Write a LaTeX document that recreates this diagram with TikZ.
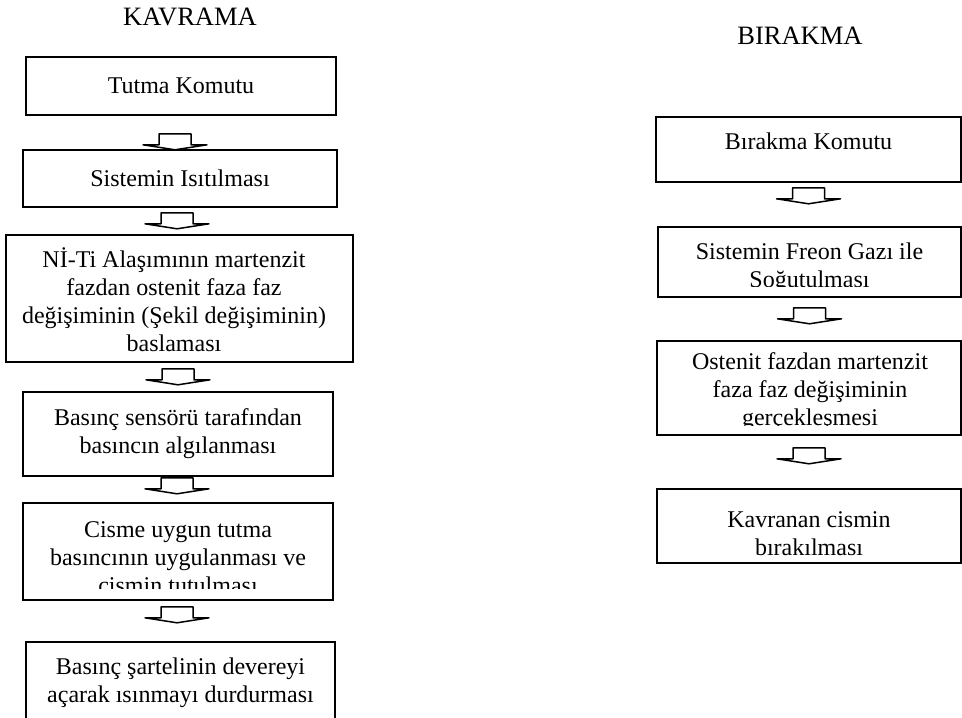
\documentclass[tikz,border=0pt]{standalone}
\usepackage{fontspec}
\setmainfont{Liberation Serif}
\usetikzlibrary{positioning}

\begin{document}
\begin{tikzpicture}[
  x=1pt,
  y=-1pt,
  box/.style={draw, line width=1.6pt, align=center, inner sep=0pt, font=\fontsize{24}{28}\selectfont},
  txt/.style={align=center, inner sep=0pt, font=\fontsize{24}{28}\selectfont},
  title/.style={inner sep=0pt, font=\fontsize{26.5}{30}\selectfont},
  blockarr/.style={line width=1.5pt, line join=round, to path={
    ([yshift=-#1]\tikztostart) +(-16pt,0pt) -- +(16pt,0pt) -- +(16pt,-11pt) -- +(32pt,-11pt)
    -- +(0pt,-16pt) -- +(-32pt,-11pt) -- +(-16pt,-11pt) -- cycle}},
  blockarr/.default=6pt
]
\clip (0,0) rectangle (962,718);

% left column
\node[title] (kavrama) at (190,17) {KAVRAMA};

\node[box, minimum width=310pt, minimum height=58pt] (b1) at (181,86) {Tutma Komutu};
\node[box, minimum width=314pt, minimum height=57pt] (b2) at (180,178.5) {Sistemin Isıtılması};
\node[box, minimum width=347pt, minimum height=127pt] (b3) at (179.5,298.5) {};
\node[txt] (t3) at (174,300)
  {Nİ-Ti Alaşımının martenzit\\fazdan ostenit faza faz\\değişiminin (Şekil değişiminin)\\baslaması};
\node[box, minimum width=310pt, minimum height=84pt] (b4) at (178,434)
  {Basınç sensörü tarafından\\basıncın algılanması};
\node[box, minimum width=310pt, minimum height=97pt] (b5) at (178,551.5) {};
\begin{scope}
  \clip ([shift={(4pt,-4pt)}]b5.north west) rectangle ([shift={(-4pt,12pt)}]b5.south east);
  \node[txt] (t5) at (178,558) {Cisme uygun tutma\\basıncının uygulanması ve\\cismin tutulması};
\end{scope}
\node[box, minimum width=309pt, minimum height=82pt] (b6) at (180.5,683)
  {Basınç şartelinin devereyi\\açarak ısınmayı durdurması};

\draw[blockarr=18pt] ([xshift=-6pt]b1.south) to (b2.north);
\draw[blockarr=5pt] ([xshift=-3pt]b2.south) to (b3.north);
\draw[blockarr=6pt] ([xshift=-1.5pt]b3.south) to (b4.north);
\draw[blockarr=1pt] ([xshift=-1pt]b4.south) to (b5.north);
\draw[blockarr=6pt] ([xshift=-1pt]b5.south) to (b6.north);

% right column
\node[title] (birakma) at (800,36) {BIRAKMA};

\node[box, minimum width=305pt, minimum height=65pt] (r1) at (808.5,149.5) {};
\node[txt] (tr1) at (808.5,141) {Bırakma Komutu};
\node[box, minimum width=303pt, minimum height=70pt] (r2) at (809.5,262) {};
\begin{scope}
  \clip ([shift={(4pt,-4pt)}]r2.north west) rectangle ([shift={(-4pt,11pt)}]r2.south east);
  \node[txt] (tr2) at (809.5,267.5) {Sistemin Freon Gazı ile\\Soğutulması};
\end{scope}
\node[box, minimum width=304pt, minimum height=94pt] (r3) at (809,388) {};
\begin{scope}
  \clip ([shift={(4pt,-4pt)}]r3.north west) rectangle ([shift={(-4pt,10pt)}]r3.south east);
  \node[txt] (tr3) at (810,392) {Ostenit fazdan martenzit\\faza faz değişiminin\\gerçekleşmesi};
\end{scope}
\node[box, minimum width=304pt, minimum height=74pt] (r4) at (809,526) {};
\node[txt] (tr4) at (809,533.5) {Kavranan cismin\\bırakılması};

\draw[blockarr=5pt] (r1.south) to (r2.north);
\draw[blockarr=10pt] (r2.south) to (r3.north);
\draw[blockarr=12pt] (r3.south) to (r4.north);
\end{tikzpicture}
\end{document}
